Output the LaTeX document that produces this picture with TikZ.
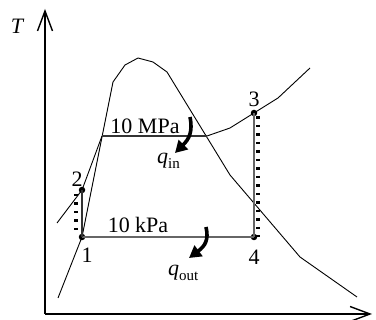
\documentclass[tikz,border=0pt]{standalone}
\usepackage{fontspec}
\setmainfont{Liberation Serif}
\usetikzlibrary{arrows.meta}
\begin{document}
\begin{tikzpicture}[x=1pt,y=-1pt,
 curve/.style={line width=0.9pt, line join=round},
 lbl/.style={font=\fontsize{22}{22}\selectfont, inner sep=0pt, anchor=base},
 dot/.style={circle,fill,inner sep=0pt,minimum size=6.5pt},
 heat/.style={line width=3.6pt,-{Triangle[length=12pt,width=13pt]}},
 axis/.style={line width=1.4pt,-{Straight Barb[length=20pt,width=15pt]}},
 tickmarks/.style={line width=4pt, dash pattern=on 2.5pt off 6pt},
 isobar/.style={line width=1.1pt, draw=black!60},
]
\useasboundingbox (0,0) rectangle (376,320);
% axes
\coordinate (O) at (45,314);
\coordinate (Ty) at (45,9);
\coordinate (Sx) at (372,314);
\draw[axis] (O) -- (Ty);
\draw[axis] (O) -- (Sx);
\node[lbl, anchor=center, font=\fontsize{22}{22}\selectfont\itshape] (T) at (17,26) {T};
% state points
\node[dot] (p1) at (82,237) {};
\node[dot] (p2) at (82,190) {};
\node[dot] (p3) at (254,113) {};
\node[dot] (p4) at (254,237) {};
% dome coordinates
\coordinate (b0) at (58,298);
\coordinate (d1) at (113,82);
\coordinate (d2) at (125,65);
\coordinate (d3) at (138,58);
\coordinate (d4) at (153,62);
\coordinate (d5) at (167,72);
\coordinate (d6) at (230,175);
\coordinate (d7) at (300,257);
\coordinate (d8) at (357,297);
\draw[curve] (b0) -- (p1.center) -- (d1) -- (d2) -- (d3) -- (d4) -- (d5) -- (d6) -- (d7) -- (d8);
% 10 MPa isobar
\coordinate (a0) at (57,223);
\coordinate (f) at (102,136);
\coordinate (g) at (207,136);
\coordinate (s1) at (230,128);
\coordinate (s2) at (278,98);
\coordinate (s3) at (310,68);
\draw[curve] (a0) -- (p2.center) -- (f);
\draw[line width=1.1pt, draw=black!80] (f) -- (g);
\draw[curve] (g) -- (s1) -- (p3.center) -- (s2) -- (s3);
% 10 kPa line
\draw[isobar] (p1.center) -- (p4.center);
% isentropic lines with tick marks
\draw[isobar] (p3.center) -- (p4.center);
\coordinate (t3) at (258,116.5);
\coordinate (t4) at (258,237);
\draw[tickmarks] (t3) -- (t4);
\draw[line width=1.1pt, draw=black!80] (p2.center) -- (p1.center);
\coordinate (t2) at (76,194);
\coordinate (t1) at (76,236);
\draw[tickmarks] (t2) -- (t1);
% labels
\node[lbl] (L1) at (87,263) {1};
\node[lbl] (L2) at (77,187) {2};
\node[lbl] (L3) at (254,107) {3};
\node[lbl] (L4) at (254,265) {4};
\node[lbl] (hp) at (145,134) {10 MPa};
\node[lbl] (lp) at (138,233) {10 kPa};
\node[lbl, anchor=base west] (qin) at (157,164) {\itshape q\upshape\raisebox{-5pt}{\fontsize{15}{15}\selectfont in}};
\node[lbl, anchor=base west] (qout) at (168,276) {\itshape q\upshape\raisebox{-5pt}{\fontsize{15}{15}\selectfont out}};
% heat arrows
\coordinate (qi0) at (190,117);
\coordinate (qi1) at (175,153);
\draw[heat] (qi0) .. controls (193,132) and (189,139) .. (qi1);
\coordinate (qo0) at (206,227);
\coordinate (qo1) at (189,258);
\draw[heat] (qo0) .. controls (209,240) and (205,246) .. (qo1);
\end{tikzpicture}
\end{document}
